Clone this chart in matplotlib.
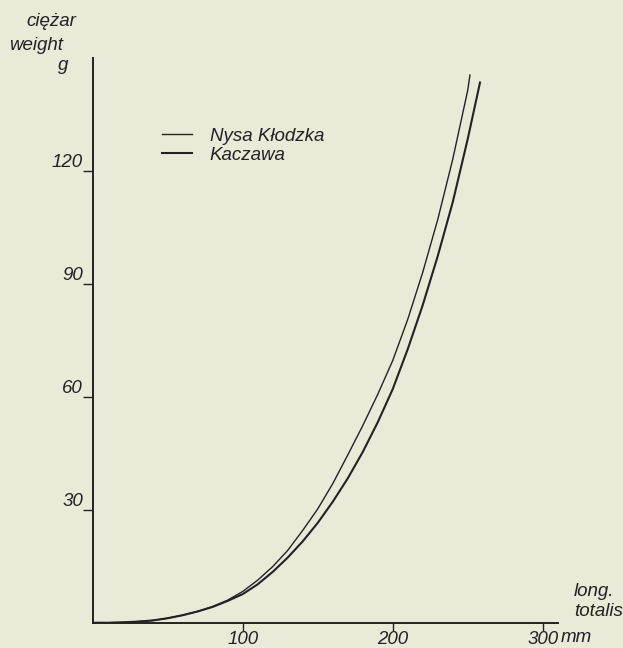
import matplotlib
matplotlib.use('Agg')
import matplotlib.pyplot as plt

# length (mm) vs weight (g)
nysa_len = [0, 10, 20, 30, 40, 50, 60, 70, 80, 90, 100, 110, 120, 130, 140, 150,
            160, 170, 180, 190, 200, 210, 220, 230, 240, 250, 251.5]
nysa_wt = [0, 0.0, 0.1, 0.3, 0.6, 1.2, 2.0, 3.0, 4.3, 6.0, 8.3, 11.3, 14.9, 19.2, 24.5, 30.2,
           36.9, 44.5, 52.3, 60.6, 69.6, 80.5, 93.0, 107.0, 123.0, 141.3, 145.4]

kacz_len = [0, 10, 20, 30, 40, 50, 60, 70, 80, 90, 100, 110, 120, 130, 140, 150,
            160, 170, 180, 190, 200, 210, 220, 230, 240, 250, 258.2]
kacz_wt = [0, 0.0, 0.1, 0.3, 0.6, 1.2, 2.0, 3.0, 4.2, 5.8, 7.6, 10.2, 13.5, 17.3, 21.6, 26.5,
           32.1, 38.3, 45.3, 53.2, 62.0, 72.6, 84.3, 97.3, 111.6, 128.4, 143.4]

x_ticks = [100, 200, 300]
x_ticklabels = ['100', '200', '300']
y_ticks = [30, 60, 90, 120]
y_ticklabels = ['30', '60', '90', '120']

PAPER = '#e9ebd8'
INK = '#262024'
FONT = ['Liberation Sans', 'DejaVu Sans']
FS = 13.5

fig = plt.figure(figsize=(6.23, 6.48), dpi=100, facecolor=PAPER)
ax = fig.add_axes([0.1488, 0.039, 0.7464, 0.872])
ax.set_facecolor(PAPER)

ax.plot(nysa_len, nysa_wt, color=INK, lw=1.0, label='Nysa Kłodzka')
ax.plot(kacz_len, kacz_wt, color=INK, lw=1.5, label='Kaczawa')

ax.set_xlim(0, 310)
ax.set_ylim(0, 150)
for s in ['top', 'right']:
    ax.spines[s].set_visible(False)
for s in ['left', 'bottom']:
    ax.spines[s].set_color(INK)
    ax.spines[s].set_linewidth(1.4)

ax.set_xticks(x_ticks)
ax.set_xticklabels(x_ticklabels, fontstyle='italic', fontsize=FS, family=FONT, color=INK)
ax.set_yticks(y_ticks)
ax.set_yticklabels(y_ticklabels, fontstyle='italic', fontsize=FS, family=FONT, color=INK)
ax.tick_params(axis='x', direction='out', length=6, width=1.0, color=INK, pad=0)
ax.tick_params(axis='y', direction='out', length=7, width=1.0, color=INK, pad=0)
for lab in ax.get_yticklabels():
    lab.set_verticalalignment('bottom')

txt = dict(fontstyle='italic', fontsize=FS, family=FONT, color=INK)
fig.text(76 / 623, 1 - 21 / 648, 'ciężar', ha='right', va='center', **txt)
fig.text(63 / 623, 1 - 46 / 648, 'weight', ha='right', va='center', **txt)
fig.text(68 / 623, 1 - 65 / 648, 'g', ha='right', va='center', **txt)
fig.text(574 / 623, 1 - 592 / 648, 'long.', ha='left', va='center', **txt)
fig.text(574 / 623, 1 - 611 / 648, 'totalis', ha='left', va='center', **txt)
fig.text(561 / 623, 1 - 637 / 648, 'mm', ha='left', va='center', **txt)

leg = ax.legend(loc='upper left', bbox_to_anchor=(0.149, 0.876), frameon=False,
                borderpad=0, borderaxespad=0,
                handlelength=1.6, handletextpad=0.95, labelspacing=0.1,
                prop={'family': FONT, 'style': 'italic', 'size': FS})
for t in leg.get_texts():
    t.set_color(INK)

fig.savefig('out.png', dpi=100, facecolor=PAPER)
